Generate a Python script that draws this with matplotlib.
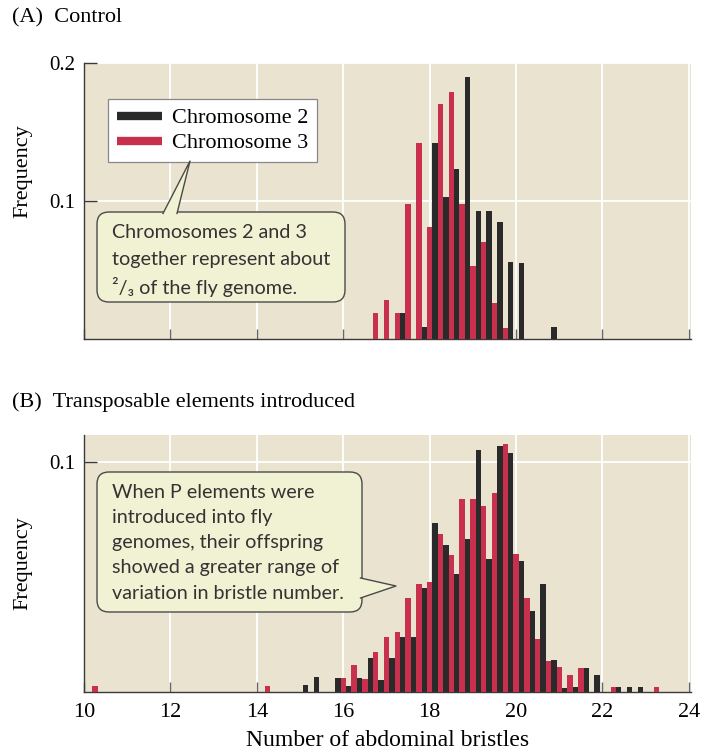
import numpy as np
import matplotlib
matplotlib.use('Agg')
import matplotlib.pyplot as plt
from matplotlib.lines import Line2D
from matplotlib.patches import FancyBboxPatch, Polygon
from matplotlib.transforms import Affine2D

# (A) Control -- bristle number (line means, 0.25 steps)
bins_a = [16.75, 17.0, 17.25, 17.5, 17.75, 18.0, 18.25, 18.5, 18.75, 19.0,
          19.25, 19.5, 19.75, 20.0, 20.25, 20.5, 20.75]
chr2_a = [0, 0, 0.019, 0, 0.009, 0.142, 0.103, 0.123, 0.190, 0.093,
          0.093, 0.085, 0.056, 0.055, 0, 0, 0.009]
chr3_a = [0.019, 0.028, 0.019, 0.098, 0.142, 0.081, 0.170, 0.179, 0.098, 0.053,
          0.070, 0.026, 0.008, 0, 0, 0, 0]

# (B) Transposable elements introduced
bins_b = [10.25, 14.25, 15.0, 15.25, 15.75, 16.0, 16.25, 16.5, 16.75, 17.0,
          17.25, 17.5, 17.75, 18.0, 18.25, 18.5, 18.75, 19.0, 19.25, 19.5,
          19.75, 20.0, 20.25, 20.5, 20.75, 21.0, 21.25, 21.5, 21.75, 22.25,
          22.5, 22.75, 23.25]
chr2_b = [0, 0, 0.003, 0.0065, 0.006, 0.0027, 0.006, 0.0148, 0.0054, 0.0146,
          0.024, 0.024, 0.045, 0.0735, 0.0638, 0.0513, 0.0666, 0.105, 0.058, 0.107,
          0.104, 0.057, 0.035, 0.047, 0.0137, 0.0019, 0.002, 0.0105, 0.0072, 0.002,
          0.002, 0.002, 0]
chr3_b = [0.0028, 0.0027, 0, 0, 0, 0.006, 0.0118, 0.0057, 0.0175, 0.0238,
          0.026, 0.041, 0.047, 0.0477, 0.0688, 0.0596, 0.0837, 0.0837, 0.0808, 0.0867,
          0.108, 0.060, 0.041, 0.023, 0.0134, 0.0108, 0.0076, 0.0105, 0, 0.002,
          0, 0, 0.002]

xticks = [10, 12, 14, 16, 18, 20, 22, 24]
labels = ['Chromosome 2', 'Chromosome 3']

c_black = '#2b2a2a'
c_red = '#c8304d'
bg = '#e9e3cf'
box_fc = '#f1f1d3'
serif = 'Liberation Serif'
sans = ['Lato', 'DejaVu Sans']

plt.rcParams['font.family'] = serif
plt.rcParams['font.size'] = 15

W, H = 707, 756
fig = plt.figure(figsize=(W / 100, H / 100), dpi=100)
fig.patch.set_facecolor('white')
# pixel coords measured from the top-left corner
tr = Affine2D().scale(1, -1).translate(0, H)

def make_axes(top, bottom, ymax):
    ax = fig.add_axes([84 / W, 1 - bottom / H, 607 / W, (bottom - top) / H])
    ax.set_facecolor(bg)
    ax.set_xlim(10, 24.05)
    ax.set_ylim(0, ymax)
    for s in ['top', 'right']:
        ax.spines[s].set_visible(False)
    for s in ['left', 'bottom']:
        ax.spines[s].set_color('#3a3a3a')
        ax.spines[s].set_linewidth(1.0)
    ax.set_xticks(xticks)
    ax.grid(True, color='white', lw=1.3)
    ax.set_axisbelow(True)
    ax.tick_params(axis='y', direction='in', length=9, width=1.0, color='#3a3a3a', pad=6)
    ax.tick_params(axis='x', direction='in', length=7, width=1.0, color='#666666', pad=8)
    ax.set_ylabel('Frequency', fontsize=16, labelpad=10)
    return ax

def draw_bars(ax, bins, c2, c3):
    x = np.array(bins)
    ax.bar(x, c3, width=0.125, color=c_red, linewidth=0, zorder=3)
    ax.bar(x + 0.125, c2, width=0.125, color=c_black, linewidth=0, zorder=3)

# ---- panel A
axA = make_axes(63, 339, 0.2)
axA.set_yticks([0.1, 0.2])
axA.set_yticklabels(['0.1', '0.2'])
axA.set_xticklabels([])
axA.yaxis.set_label_coords(-0.085, 0.61)
draw_bars(axA, bins_a, chr2_a, chr3_a)

handles = [Line2D([], [], color=c_black, lw=6, solid_capstyle='butt'),
           Line2D([], [], color=c_red, lw=6, solid_capstyle='butt')]
leg = axA.legend(handles, labels, loc='upper left', bbox_to_anchor=(0.04, 0.87),
                 fontsize=16, frameon=True, fancybox=False, framealpha=1,
                 handlelength=2.0, handletextpad=0.45, labelspacing=0.2,
                 borderpad=0.4, borderaxespad=0)
leg.get_frame().set_edgecolor('#888888')
leg.get_frame().set_linewidth(0.9)

# ---- panel B
axB = make_axes(435, 692, 0.1117)
axB.set_yticks([0.1])
axB.set_yticklabels(['0.1'])
axB.set_xticklabels([str(t) for t in xticks], fontsize=16)
axB.set_xlabel('Number of abdominal bristles', fontsize=17, labelpad=6)
axB.yaxis.set_label_coords(-0.085, 0.5)
draw_bars(axB, bins_b, chr2_b, chr3_b)

# panel titles
fig.text(12 / W, 1 - 18 / H, '(A)  Control', fontsize=16, va='center', ha='left')
fig.text(12 / W, 1 - 402 / H, '(B)  Transposable elements introduced', fontsize=16,
         va='center', ha='left')

# ---- callouts
def callout(x0, y0, x1, y1, wedge):
    box = FancyBboxPatch((x0, y0), x1 - x0, y1 - y0,
                         boxstyle='round,pad=0,rounding_size=12',
                         transform=tr, fc=box_fc, ec='#4a4a4a', lw=1.0, zorder=10)
    fig.add_artist(box)
    poly = Polygon(wedge, closed=True, transform=tr, fc=box_fc, ec='none', zorder=11)
    fig.add_artist(poly)
    fig.add_artist(Line2D([wedge[0][0], wedge[1][0], wedge[2][0]],
                          [wedge[0][1], wedge[1][1], wedge[2][1]],
                          transform=tr, color='#4a4a4a', lw=1.0, zorder=12))

callout(97, 212, 345, 302, [(163, 213.5), (190, 161), (177, 213.5)])
txtA = ['Chromosomes 2 and 3', 'together represent about', '\u00b2/\u2083 of the fly genome.']
for i, t in enumerate(txtA):
    fig.text(112 / W, 1 - (232 + 27.5 * i) / H, t, family=sans, fontsize=14.2,
             color='#333333', va='center', ha='left', zorder=13)

callout(97, 472, 362, 612, [(360.5, 578), (396, 586), (360.5, 598)])
txtB = ['When P elements were', 'introduced into fly', 'genomes, their offspring',
        'showed a greater range of', 'variation in bristle number.']
for i, t in enumerate(txtB):
    fig.text(112 / W, 1 - (492 + 25.3 * i) / H, t, family=sans, fontsize=14.2,
             color='#333333', va='center', ha='left', zorder=13)

fig.savefig('out.png', dpi=100)
